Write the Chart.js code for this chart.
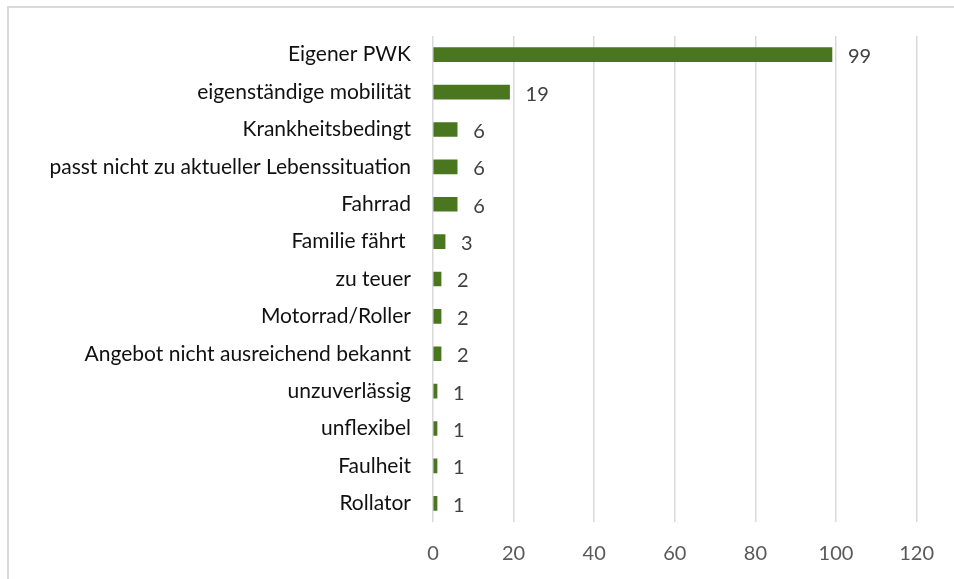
<!DOCTYPE html>
<html>
<head>
<meta charset="utf-8">
<script src="https://cdn.jsdelivr.net/npm/chart.js@4/dist/chart.umd.min.js"></script>
<style>
  html, body { margin: 0; padding: 0; background: #fff; }
  #wrap { position: relative; width: 954px; height: 579px; }
  #rahmen { position: absolute; left: 7px; top: 6px; width: 960px; height: 600px;
            border-top: 2px solid #d9d9d9; border-left: 2px solid #d9d9d9; pointer-events: none; }
</style>
</head>
<body>
<div id="wrap">
  <canvas id="grafik" width="954" height="579"></canvas>
  <div id="rahmen"></div>
</div>
<script>
// Gründe (Kategorien) und Anzahl der Nennungen
const gruende = [
  'Eigener PWK',
  'eigenständige mobilität',
  'Krankheitsbedingt',
  'passt nicht zu aktueller Lebenssituation',
  'Fahrrad',
  'Familie fährt ',
  'zu teuer',
  'Motorrad/Roller',
  'Angebot nicht ausreichend bekannt',
  'unzuverlässig',
  'unflexibel',
  'Faulheit',
  'Rollator'
];
const anzahl = [99, 19, 6, 6, 6, 3, 2, 2, 2, 1, 1, 1, 1];
const achsenMax = 120;
const achsenSchritt = 20;

const schrift = 'Lato, "Open Sans", sans-serif';

// Werte rechts neben den Balken schreiben
const wertePlugin = {
  id: 'werte',
  afterDatasetsDraw(chart) {
    const ctx = chart.ctx;
    const meta = chart.getDatasetMeta(0);
    ctx.save();
    ctx.font = '20px ' + schrift;
    ctx.fillStyle = '#404040';
    ctx.textAlign = 'left';
    ctx.textBaseline = 'middle';
    meta.data.forEach((bar, i) => {
      ctx.fillText(String(anzahl[i]), bar.x + 16, bar.y + 2);
    });
    ctx.restore();
  }
};

const config = {
  type: 'bar',
  data: {
    labels: gruende,
    datasets: [{
      data: anzahl,
      backgroundColor: '#4b7620',
      borderWidth: 0,
      barThickness: 14
    }]
  },
  options: {
    indexAxis: 'y',
    responsive: false,
    animation: false,
    layout: { padding: { top: 36, right: 36, bottom: 0, left: 0 } },
    plugins: {
      legend: { display: false },
      tooltip: { enabled: false }
    },
    scales: {
      x: {
        min: 0,
        max: achsenMax,
        ticks: {
          stepSize: achsenSchritt,
          color: '#595959',
          font: { family: schrift, size: 20 },
          padding: 20
        },
        grid: { color: '#d9d9d9', lineWidth: 1.5, drawTicks: false },
        border: { display: false },
        afterFit(scale) { scale.height = 57; }
      },
      y: {
        ticks: {
          color: '#111111',
          font: { family: schrift, size: 21 },
          padding: 22,
          autoSkip: false
        },
        grid: { display: false, drawTicks: false },
        border: { display: false },
        afterFit(scale) { scale.width = 433; }
      }
    }
  },
  plugins: [wertePlugin]
};

new Chart(document.getElementById('grafik').getContext('2d'), config);
</script>
</body>
</html>
